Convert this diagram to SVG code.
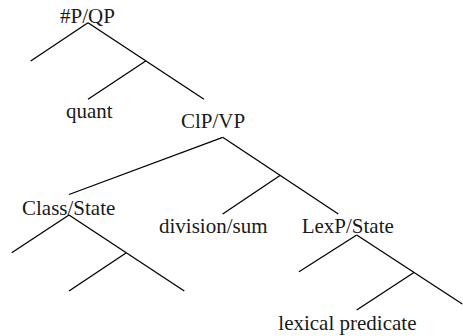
<svg xmlns="http://www.w3.org/2000/svg" width="463" height="336" viewBox="0 0 463 336">
<style>
text{font-family:"Liberation Serif","Times New Roman",serif;font-size:21px;fill:#1a1a1a}
line{stroke:#000;stroke-width:1.3;stroke-linecap:butt}
</style>
<rect width="463" height="336" fill="#fff"/>
<g id="connectors">
<line x1="88" y1="22.7" x2="30.7" y2="61"/>
<line x1="88" y1="22.7" x2="204" y2="99.3"/>
<line x1="145.7" y1="61" x2="88" y2="99.3"/>
<line x1="222.7" y1="137.3" x2="69" y2="194.5"/>
<line x1="222.7" y1="137.3" x2="338.3" y2="214"/>
<line x1="280" y1="175.5" x2="222.7" y2="214"/>
<line x1="69" y1="215" x2="11.7" y2="252.7"/>
<line x1="69" y1="215" x2="184.3" y2="291"/>
<line x1="126" y1="253" x2="69" y2="291"/>
<line x1="356.7" y1="235" x2="299" y2="271.7"/>
<line x1="356.7" y1="235" x2="462.3" y2="304"/>
<line x1="414.3" y1="272.3" x2="356.7" y2="310"/>
</g>
<g id="n-qp"><text x="60" y="23">#P/QP</text></g>
<g id="n-quant"><text x="66" y="118">quant</text></g>
<g id="n-clp"><text x="181" y="128">ClP/VP</text></g>
<g id="n-class"><text x="22" y="215">Class/State</text></g>
<g id="n-div"><text x="159" y="233">division/sum</text></g>
<g id="n-lexp"><text x="301.7" y="233">LexP/State</text></g>
<g id="n-lex"><text x="278.3" y="330">lexical predicate</text></g>
</svg>
